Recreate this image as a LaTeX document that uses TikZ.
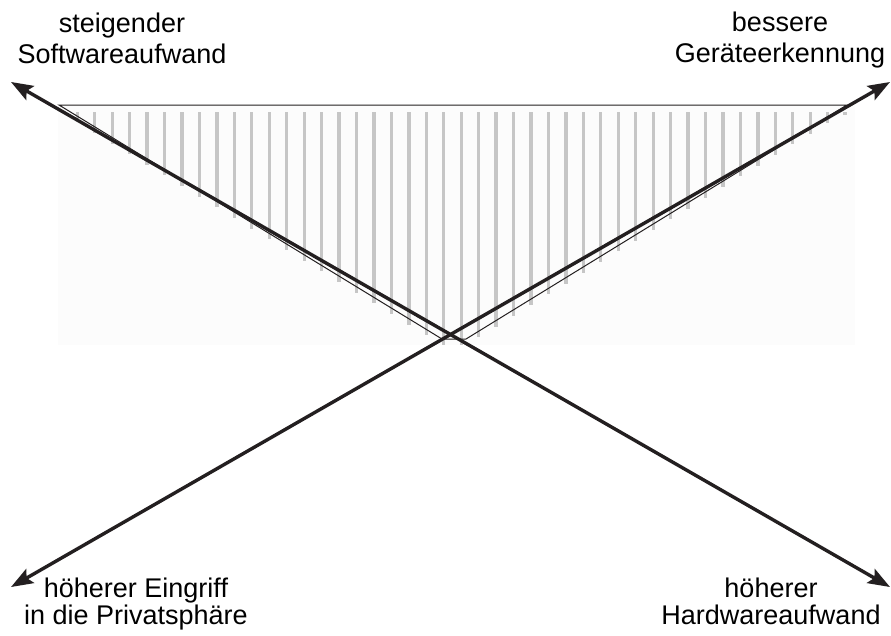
\documentclass[tikz,border=0pt]{standalone}
\usepackage{fontspec}
\setmainfont{Liberation Sans}
\usetikzlibrary{arrows.meta}
\definecolor{ink}{RGB}{35,31,32}
\definecolor{hatchgrey}{RGB}{198,198,198}
\tikzset{
  bigarrow/.style={line width=3.4pt, draw=ink, {Stealth[length=22pt,width=16pt,inset=4pt]}-{Stealth[length=22pt,width=16pt,inset=4pt]}},
  hatchline/.style={line width=3.3pt, draw=hatchgrey},
  thinedge/.style={line width=1pt, draw=ink},
  toplabel/.style={inner sep=0pt, align=center, font=\fontsize{27}{31}\selectfont},
  bottomlabel/.style={inner sep=0pt, align=center, font=\fontsize{27}{27}\selectfont}
}
\begin{document}
\begin{tikzpicture}[x=1pt,y=-1pt]
\useasboundingbox (0,0) rectangle (891,635);
% faint background area
\fill[black!1] (58,105) rectangle (855,345);
% hatch lines
\foreach \k in {0,...,44}{
  \pgfmathsetmacro\hx{77.3+17.45*\k}
  \pgfmathsetmacro\hy{\hx<442 ? 105+(\hx-59)*0.611 : (\hx>466 ? 339-(\hx-466)*0.6142 : 339)}
  \pgfmathsetmacro\hb{max(\hy+6,115)}
  \draw[hatchline] (\hx,112) -- (\hx,\hb);
}
% thin triangle
\coordinate (ta) at (59,105);
\coordinate (tb) at (442,339);
\coordinate (tc) at (466,339);
\coordinate (td) at (847,105);
\draw[thinedge] (ta) -- (tb) -- (tc) -- (td) -- cycle;
% arrow end points
\coordinate (tl) at (11,82);
\coordinate (br) at (890,587);
\coordinate (bl) at (11,587);
\coordinate (tr) at (890,82);
\draw[bigarrow] (tl) -- (br);
\draw[bigarrow] (bl) -- (tr);
% labels
\node[toplabel] (soft) at (122,38) {steigender\\Softwareaufwand};
\node[toplabel] (geraet) at (780,40.5) {bessere\\Geräteerkennung};
\node[bottomlabel] (privat) at (136,604) {höherer Eingriff\\in die Privatsphäre};
\node[bottomlabel] (hard) at (771,601) {höherer\\Hardwareaufwand};
\end{tikzpicture}
\end{document}
